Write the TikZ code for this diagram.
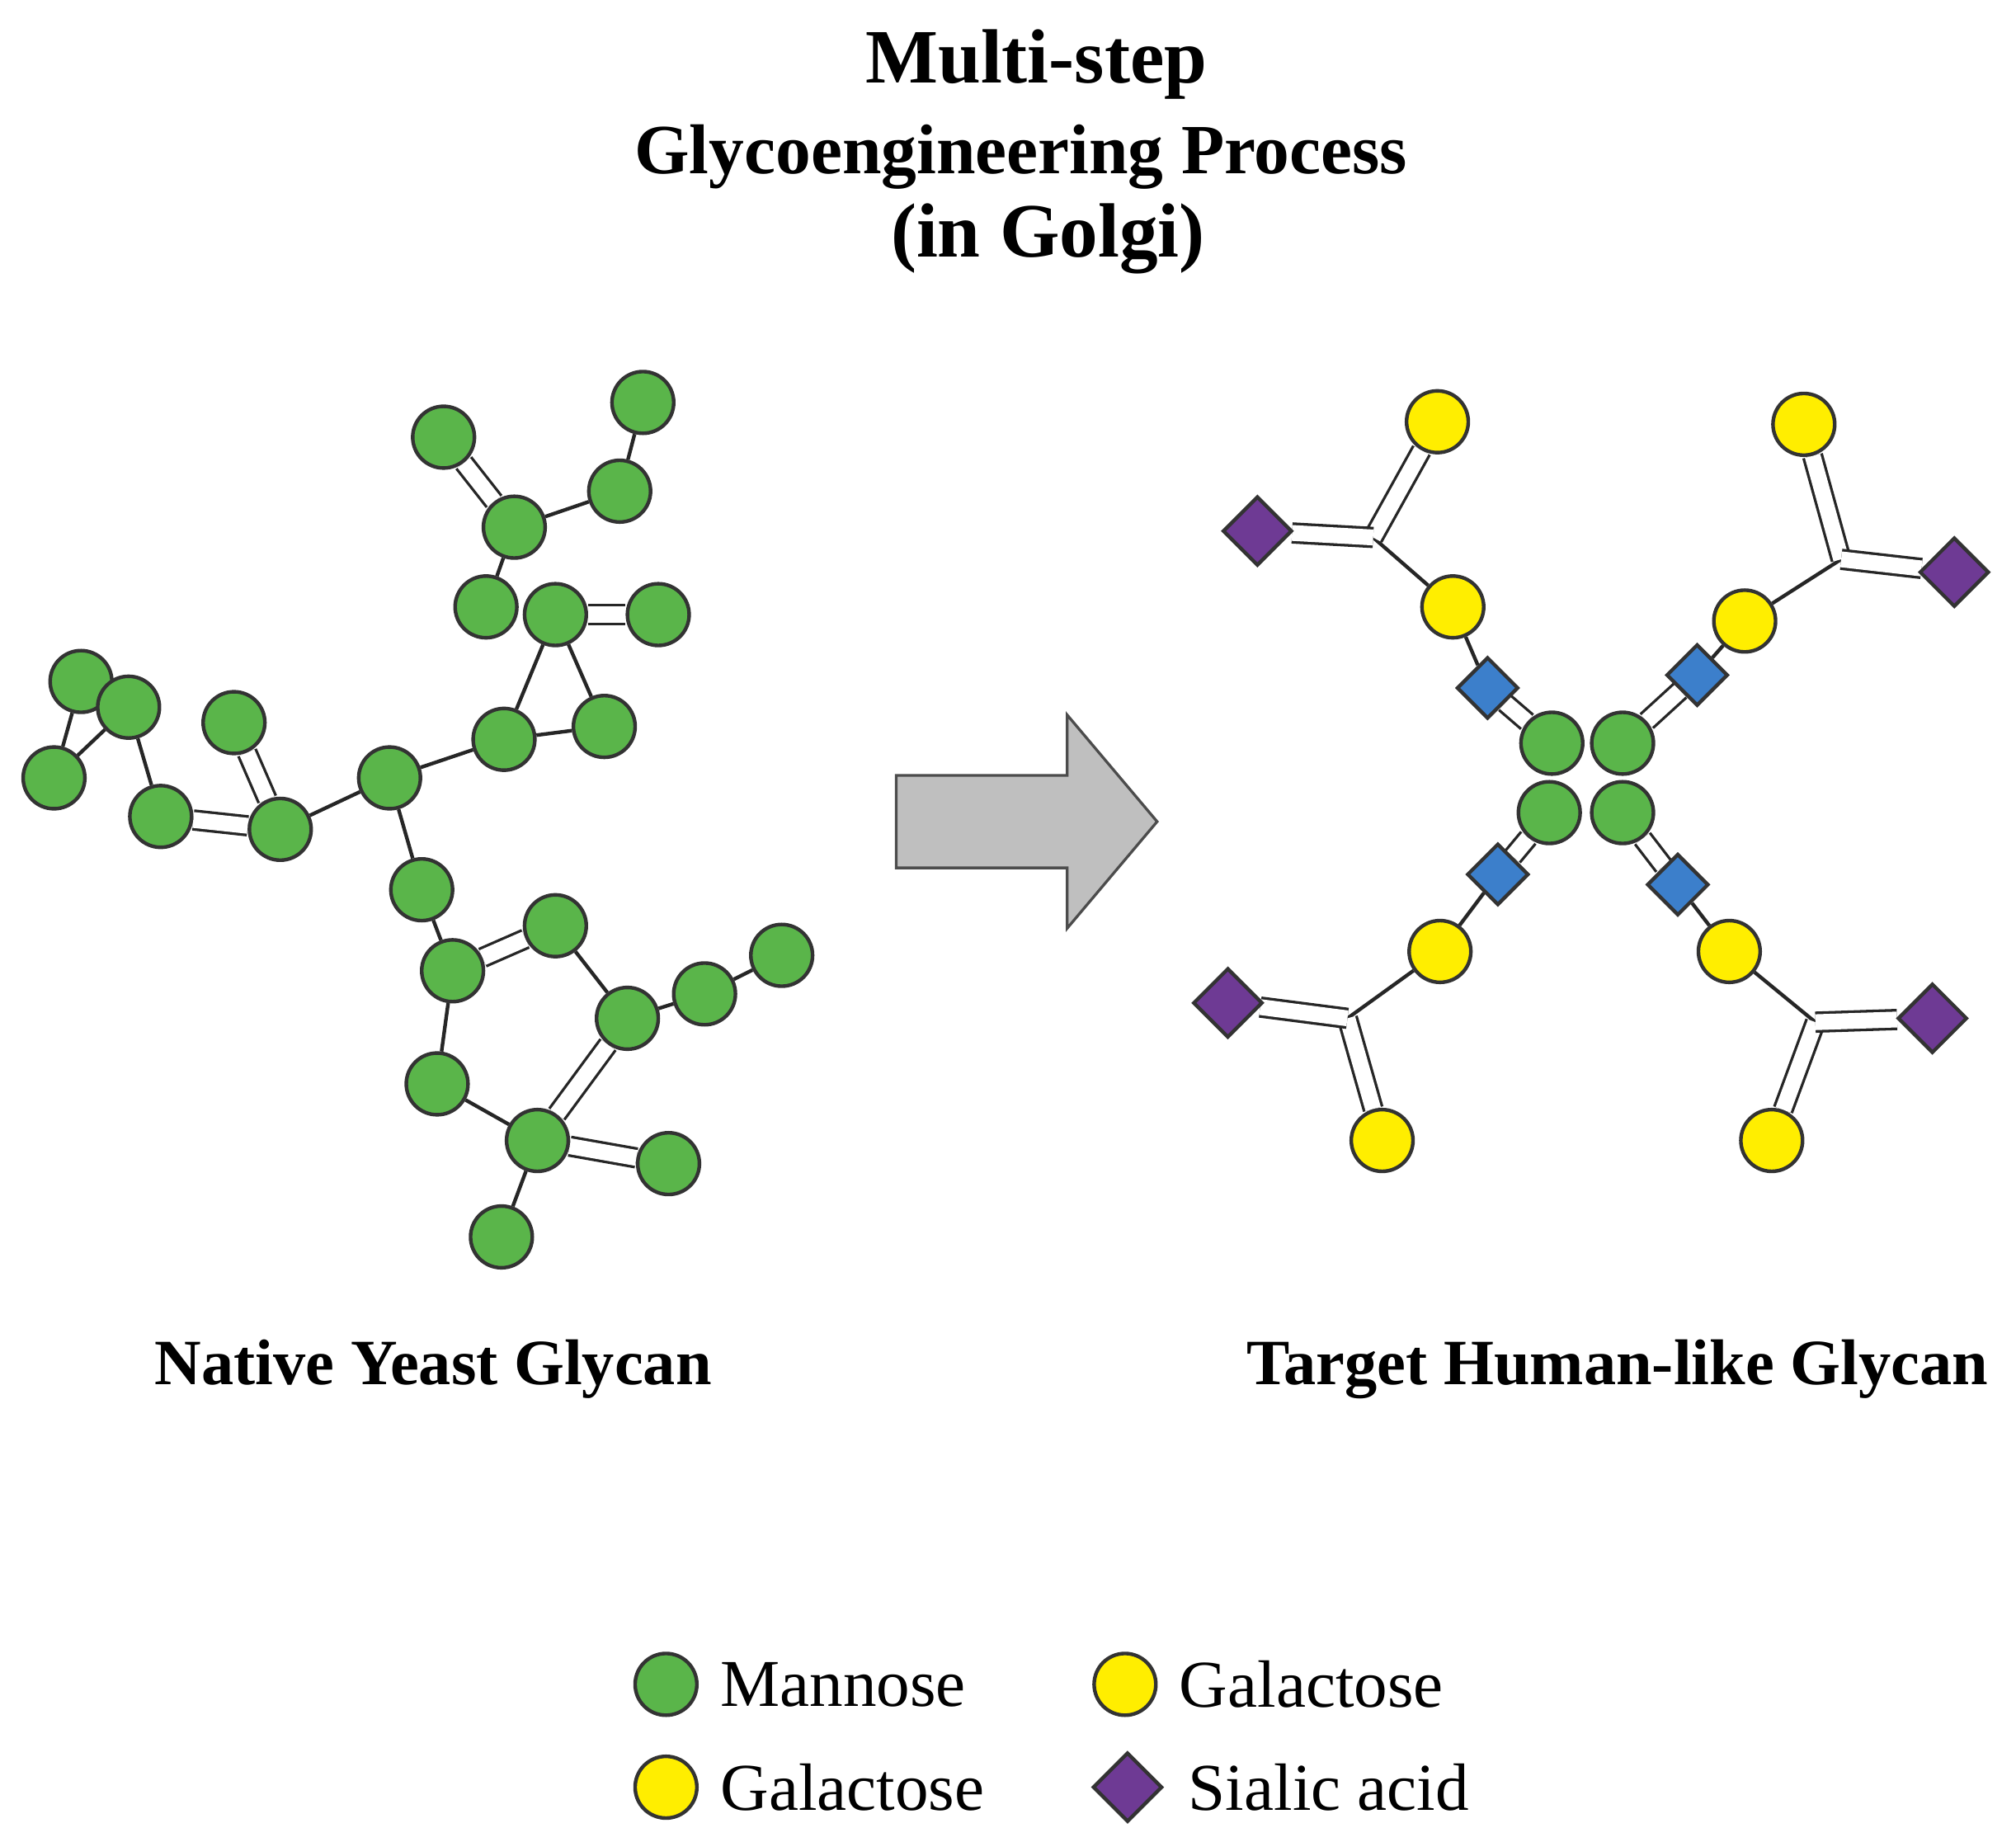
\documentclass[tikz,border=0pt]{standalone}
\usepackage{fontspec}
\setmainfont{Liberation Serif}
\usetikzlibrary{shapes.geometric}
\pgfdeclarelayer{bg}\pgfsetlayers{bg,main}
\definecolor{man}{HTML}{5AB54A}
\definecolor{gal}{HTML}{FFEE00}
\definecolor{glc}{HTML}{3C7FCB}
\definecolor{sia}{HTML}{6E3A94}
\begin{document}
\begin{tikzpicture}[x=0.01cm,y=-0.01cm,
 mn/.style={circle,draw=black!80,line width=0.8pt,fill=man,minimum size=0.48cm,inner sep=0},
 gl/.style={circle,draw=black!80,line width=0.8pt,fill=gal,minimum size=0.48cm,inner sep=0},
 gn/.style={rectangle,rotate=45,draw=black!80,line width=0.8pt,fill=glc,minimum size=0.33cm,inner sep=0},
 sa/.style={diamond,draw=black!80,line width=0.8pt,fill=sia,minimum size=0.54cm,inner sep=0},
 sl/.style={draw=black!85,line width=0.8pt},
 dl/.style={draw=black!85,line width=0.6pt,double=white,double distance=3.5pt},
 lbl/.style={font=\fontsize{14.3}{17}\selectfont\bfseries},
 leg/.style={font=\fontsize{14.8}{17}\selectfont,anchor=west}]
\useasboundingbox (0,0) rectangle (1568,1432);
\node[font=\fontsize{17}{20}\selectfont\bfseries] (t1) at (806,50) {Multi-step};
\node[font=\fontsize{15.6}{18}\selectfont\bfseries] (t2) at (794,122) {Glycoengineering Process};
\node[font=\fontsize{17}{20}\selectfont\bfseries] (t3) at (815,186) {(in Golgi)};
% left glycan
\foreach \n/\x/\y in {a1/345/340,a2/500/313,a3/482/382,a4/400/410,a5/378/472,a6/432/478,a7/512/478,a8/392/575,a9/470/565,a10/303/605,a11/63/530,a12/100/550,a13/182/562,a14/42/605,a15/125/635,a16/218/645,a17/328/692,a18/352/755,a19/432/720,a20/488/792,a21/548/773,a22/608/743,a23/340/843,a24/418/887,a25/520/905,a26/390/962}
  \node[mn] (\n) at (\x,\y) {};
\begin{pgfonlayer}{bg}
\foreach \a/\b in {a2/a3,a3/a4,a4/a5,a6/a9,a8/a6,a8/a9,a8/a10,a10/a16,a10/a17,a11/a12,a11/a14,a14/a12,a12/a15,a17/a18,a19/a20,a20/a21,a21/a22,a18/a23,a23/a24,a24/a26}
  \draw[sl] (\a) -- (\b);
\foreach \a/\b in {a1/a4,a6/a7,a13/a16,a15/a16,a18/a19,a20/a24,a24/a25}
  \draw[dl] (\a) -- (\b);
\end{pgfonlayer}
% arrow
\draw[fill=black!25,draw=black!70,line width=0.6pt] (697,603) -- (830,603) -- (830,556) -- (900,639) -- (830,722) -- (830,675) -- (697,675) -- cycle;
% right glycan
\foreach \i/\mx/\my/\sx/\sy/\gx/\gy/\jx/\jy/\ox/\oy/\dx/\dy in {
 1/1207/578/1157/535/1130/472/1068/418/1118/328/978/413,
 2/1262/578/1320/525/1357/483/1432/435/1403/330/1520/445,
 3/1205/632/1165/680/1120/740/1048/792/1075/887/955/780,
 4/1262/632/1305/688/1345/740/1412/795/1378/887/1503/792}{
 \node[mn] (m\i) at (\mx,\my) {};
 \node[gn] (s\i) at (\sx,\sy) {};
 \node[gl] (g\i) at (\gx,\gy) {};
 \coordinate (j\i) at (\jx,\jy);
 \node[gl] (o\i) at (\ox,\oy) {};
 \node[sa] (d\i) at (\dx,\dy) {};
 \begin{pgfonlayer}{bg}
 \draw[dl] (m\i) -- (s\i);
 \draw[sl] (s\i) -- (g\i) -- (j\i);
 \draw[dl] (j\i) -- (o\i);
 \draw[dl] (j\i) -- (d\i);
 \end{pgfonlayer}}
\node[lbl] (l1) at (337,1065) {Native Yeast Glycan};
\node[lbl] (l2) at (1258,1065) {Target Human-like Glycan};
% legend
\node[mn] (k1) at (518,1310) {};
\node[leg] at (548,1310) {Mannose};
\node[gl] (k2) at (875,1310) {};
\node[leg] at (905,1310) {Galactose};
\node[gl] (k3) at (518,1390) {};
\node[leg] at (548,1390) {Galactose};
\node[sa] (k4) at (877,1390) {};
\node[leg] at (912,1390) {Sialic acid};
\end{tikzpicture}
\end{document}
